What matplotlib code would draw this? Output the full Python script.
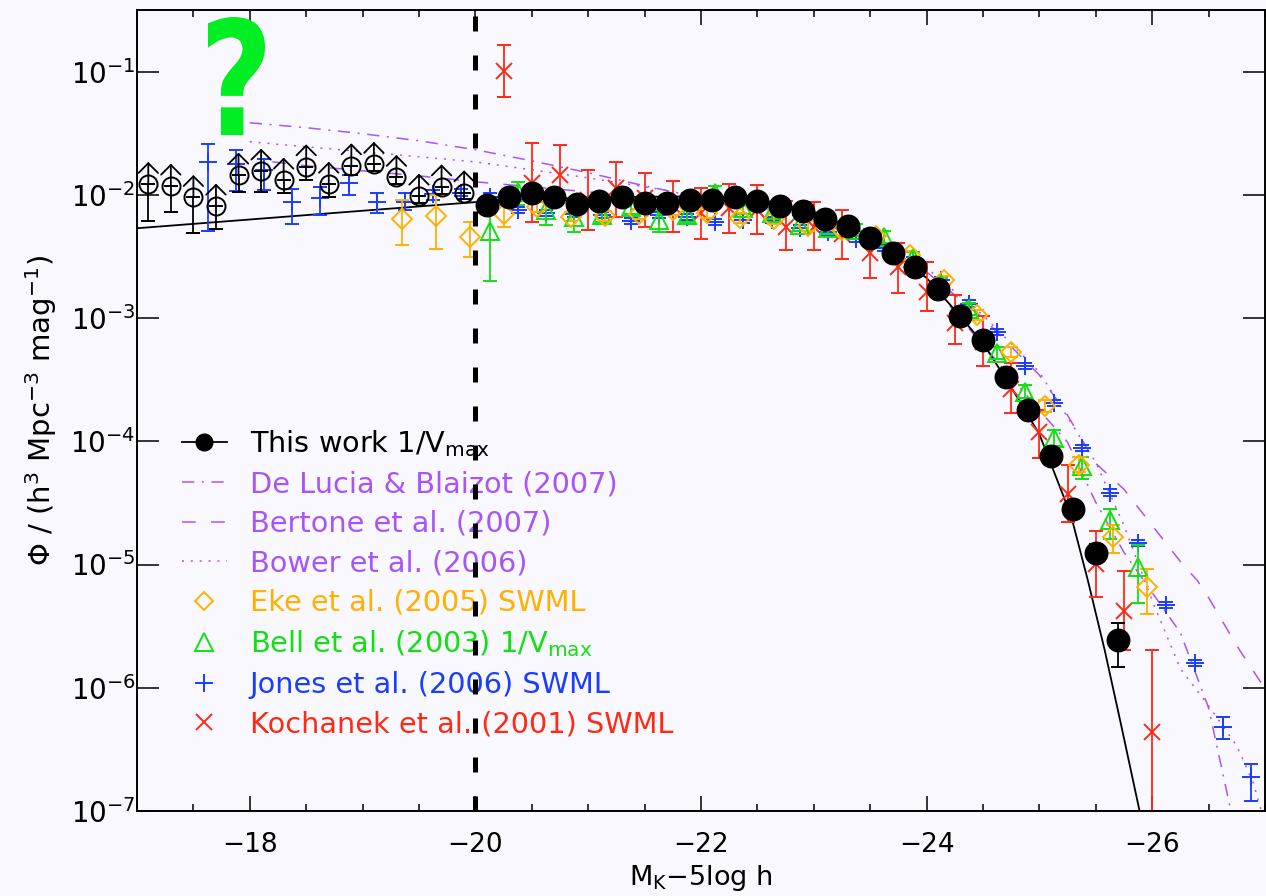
import numpy as np
import matplotlib.pyplot as plt
from matplotlib.lines import Line2D
from matplotlib.patches import PathPatch
from matplotlib.textpath import TextPath
from matplotlib.font_manager import FontProperties
from matplotlib.ticker import LogLocator, MultipleLocator, NullLocator

# K-band luminosity function, values stored as log10(phi)

# this work, 1/Vmax
this_mag = [-20.1, -20.3, -20.5, -20.7, -20.9, -21.1, -21.3, -21.5, -21.7, -21.9,
            -22.1, -22.3, -22.5, -22.7, -22.9, -23.1, -23.3, -23.5, -23.7, -23.9,
            -24.1, -24.3, -24.5, -24.7, -24.9, -25.1, -25.3, -25.5, -25.7]
this_logphi = [-2.081, -2.014, -1.986, -2.019, -2.073, -2.049, -2.014, -2.067, -2.067, -2.041,
               -2.041, -2.014, -2.049, -2.089, -2.128, -2.195, -2.252, -2.352, -2.469, -2.589,
               -2.767, -2.984, -3.179, -3.482, -3.748, -4.122, -4.553, -4.905, -5.612]
this_dlo = [0.06, 0.03, 0.03, 0.03, 0.03, 0.03, 0.03, 0.03, 0.03, 0.03,
            0.03, 0.03, 0.03, 0.03, 0.03, 0.03, 0.03, 0.03, 0.03, 0.03,
            0.03, 0.03, 0.03, 0.03, 0.03, 0.04, 0.05, 0.07, 0.22]
this_dhi = [0.03, 0.03, 0.03, 0.03, 0.03, 0.03, 0.03, 0.03, 0.03, 0.03,
            0.03, 0.03, 0.03, 0.03, 0.03, 0.03, 0.03, 0.03, 0.03, 0.03,
            0.03, 0.03, 0.03, 0.03, 0.03, 0.04, 0.05, 0.07, 0.14]

# this work, faint bins (lower limits)
limit_mag = [-17.1, -17.3, -17.5, -17.7, -17.9, -18.1, -18.3, -18.5, -18.7, -18.9,
             -19.1, -19.3, -19.5, -19.7, -19.9]
limit_logphi = [-1.913, -1.927, -2.019, -2.089, -1.837, -1.805, -1.878, -1.770, -1.911, -1.762,
                -1.750, -1.856, -2.008, -1.933, -1.981]
limit_dlo = [0.30, 0.21, 0.29, 0.19, 0.14, 0.17, 0.11, 0.11, 0.11, 0.075,
             0.06, 0.055, 0.06, 0.06, 0.055]

# Schechter fit to this work
fit_mag = [-17.0, -18.0, -19.0, -20.0, -21.0, -22.0, -22.5, -23.0, -23.5, -23.75, -24.0,
           -24.25, -24.5, -24.75, -25.0, -25.28, -25.43, -25.58, -25.73, -25.89]
fit_logphi = [-2.271, -2.200, -2.129, -2.059, -2.020, -2.012, -2.033, -2.138, -2.333, -2.496, -2.675,
              -2.935, -3.203, -3.561, -3.943, -4.602, -5.130, -5.699, -6.325, -7.008]

# semi-analytic models
delucia_mag = [-18.0, -18.5, -19.0, -19.5, -20.0, -20.5, -21.0, -21.5, -22.0, -22.5, -23.0,
               -23.5, -24.0, -24.5, -25.0, -25.25, -25.5, -25.75, -26.0, -26.25, -26.5, -26.7]
delucia_logphi = [-1.415, -1.455, -1.504, -1.561, -1.634, -1.724, -1.821, -1.927, -2.024, -2.106, -2.203,
                  -2.366, -2.675, -3.220, -3.748, -4.008, -4.496, -4.902, -5.228, -5.553, -6.163, -7.008]

bertone_mag = [-18.2, -18.5, -19.0, -19.5, -20.0, -20.5, -21.0, -21.5, -22.0, -22.5, -23.0, -23.5,
               -24.0, -24.5, -25.0, -25.25, -25.5, -25.75, -26.0, -26.25, -26.4, -26.5, -26.75, -27.0]
bertone_logphi = [-1.732, -1.764, -1.805, -1.846, -1.894, -1.935, -1.976, -2.008, -2.041, -2.098, -2.187, -2.350,
                  -2.626, -3.000, -3.463, -3.789, -4.179, -4.390, -4.683, -4.976, -5.130, -5.268, -5.659, -6.008]

bower_mag = [-18.0, -18.5, -19.0, -19.5, -20.0, -20.5, -21.0, -21.5, -22.0, -22.5, -23.0, -23.5,
             -24.0, -24.5, -25.0, -25.5, -25.75, -26.0, -26.25, -26.5, -26.75, -26.9, -26.97]
bower_logphi = [-1.569, -1.610, -1.650, -1.691, -1.732, -1.797, -1.862, -1.935, -2.008, -2.081, -2.179, -2.350,
                -2.593, -2.976, -3.439, -4.171, -4.683, -5.293, -5.846, -6.146, -6.472, -6.780, -7.008]

# Eke et al. (2005) SWML
eke_mag = [-19.35, -19.65, -19.95, -20.25, -20.55, -20.85, -21.15, -21.45, -21.75, -22.05,
           -22.35, -22.65, -22.95, -23.25, -23.55, -23.85, -24.15, -24.45, -24.75, -25.05,
           -25.35, -25.65, -25.95]
eke_logphi = [-2.195, -2.168, -2.344, -2.154, -2.100, -2.176, -2.171, -2.154, -2.122, -2.149,
              -2.189, -2.198, -2.252, -2.285, -2.333, -2.492, -2.695, -2.972, -3.274, -3.715,
              -4.191, -4.780, -5.179]
eke_dlo = [0.21, 0.27, 0.16, 0.11, 0.04, 0.04, 0.04, 0.04, 0.04, 0.04,
           0.04, 0.04, 0.04, 0.04, 0.04, 0.04, 0.04, 0.04, 0.04, 0.05,
           0.06, 0.13, 0.22]
eke_dhi = [0.15, 0.17, 0.12, 0.07, 0.04, 0.04, 0.04, 0.04, 0.04, 0.04,
           0.04, 0.04, 0.04, 0.04, 0.04, 0.04, 0.04, 0.04, 0.04, 0.05,
           0.06, 0.10, 0.14]

# Bell et al. (2003) 1/Vmax
bell_mag = [-20.125, -20.375, -20.625, -20.875, -21.125, -21.375, -21.625, -21.875,
            -22.125, -22.375, -22.625, -22.875, -23.125, -23.375, -23.625, -23.875,
            -24.125, -24.375, -24.625, -24.875, -25.125, -25.375, -25.625, -25.875]
bell_logphi = [-2.293, -1.973, -2.122, -2.181, -2.163, -2.095, -2.203, -2.163,
               -1.986, -2.108, -2.149, -2.244, -2.271, -2.285, -2.341, -2.512,
               -2.724, -2.927, -3.285, -3.596, -3.972, -4.203, -4.642, -5.022]
bell_dlo = [0.41, 0.11, 0.12, 0.12, 0.06, 0.06, 0.10, 0.06,
            0.06, 0.05, 0.05, 0.05, 0.05, 0.05, 0.05, 0.05,
            0.05, 0.05, 0.05, 0.05, 0.07, 0.10, 0.15, 0.29]
bell_dhi = [0.25, 0.08, 0.14, 0.10, 0.06, 0.06, 0.08, 0.06,
            0.06, 0.05, 0.05, 0.05, 0.05, 0.05, 0.05, 0.05,
            0.05, 0.05, 0.05, 0.05, 0.06, 0.075, 0.095, 0.18]

# Jones et al. (2006) SWML
jones_mag = [-17.625, -17.875, -18.125, -18.375, -18.625, -18.875, -19.125, -19.375, -19.625, -19.875,
             -20.125, -20.375, -20.625, -20.875, -21.125, -21.375, -21.625, -21.875, -22.125, -22.375,
             -22.625, -22.875, -23.125, -23.375, -23.625, -23.875, -24.125, -24.375, -24.625, -24.875,
             -25.125, -25.375, -25.625, -25.875, -26.125, -26.375, -26.625, -26.875]
jones_logphi = [-1.737, -1.750, -1.802, -2.054, -2.027, -1.905, -2.054, -2.054, -1.992, -1.981,
                -2.014, -2.122, -2.146, -2.154, -2.163, -2.211, -2.163, -2.179, -2.217, -2.203,
                -2.203, -2.271, -2.298, -2.358, -2.433, -2.528, -2.691, -2.882, -3.111, -3.390,
                -3.691, -4.051, -4.416, -4.823, -5.325, -5.799, -6.317, -6.721]
jones_dlo = [0.56, 0.22, 0.16, 0.18, 0.14, 0.10, 0.095, 0.07, 0.05, 0.03,
             0.025, 0.025, 0.025, 0.025, 0.025, 0.025, 0.025, 0.025, 0.025, 0.025,
             0.025, 0.025, 0.025, 0.025, 0.025, 0.025, 0.025, 0.025, 0.025, 0.025,
             0.025, 0.025, 0.025, 0.025, 0.025, 0.025, 0.10, 0.20]
jones_dhi = [0.15, 0.11, 0.09, 0.10, 0.09, 0.07, 0.07, 0.07, 0.035, 0.03,
             0.025, 0.025, 0.025, 0.025, 0.025, 0.025, 0.025, 0.025, 0.025, 0.025,
             0.025, 0.025, 0.025, 0.025, 0.025, 0.025, 0.025, 0.025, 0.025, 0.025,
             0.025, 0.025, 0.025, 0.025, 0.025, 0.025, 0.076, 0.106]

# Kochanek et al. (2001) SWML, with upper / lower error ends
koch_mag = [-20.25, -20.5, -20.75, -21.0, -21.25, -21.5, -21.75, -22.0, -22.25, -22.5,
            -22.75, -23.0, -23.25, -23.5, -23.75, -24.0, -24.25, -24.5, -24.75, -25.0,
            -25.25, -25.5, -25.75, -26.0]
koch_logphi = [-0.998, -1.905, -1.837, -2.041, -1.946, -2.027, -2.089, -2.149, -2.106, -2.122,
               -2.258, -2.258, -2.317, -2.474, -2.585, -2.786, -3.043, -3.193, -3.572, -3.924,
               -4.425, -4.994, -5.374, -6.358]
koch_loghi = [-0.786, -1.580, -1.599, -1.802, -1.734, -1.824, -1.884, -1.941, -1.911, -1.919,
              -2.046, -2.054, -2.122, -2.276, -2.393, -2.542, -2.813, -2.984, -3.368, -3.748,
              -4.195, -4.724, -5.049, -5.693]
koch_loglo = [-1.209, -2.217, -2.041, -2.285, -2.176, -2.258, -2.298, -2.360, -2.311, -2.317,
              -2.447, -2.451, -2.523, -2.672, -2.794, -2.943, -3.214, -3.390, -3.767, -4.136,
              -4.656, -5.260, -5.693, -8.0]

bg = '#F8F8FE'
purple = '#A855F7'
orange = '#FFB000'
green = '#12E012'
blue = '#1A3DFF'
red = '#FF2A14'


def with_err(logv, dlo, dhi):
    logv = np.asarray(logv)
    v = 10 ** logv
    lo = v - 10 ** (logv - np.asarray(dlo))
    hi = 10 ** (logv + np.asarray(dhi)) - v
    return v, np.vstack([lo, hi])


fig = plt.figure(figsize=(12.66, 8.96), dpi=100, facecolor=bg)
ax = fig.add_axes([137 / 1266, 85 / 896, 1128 / 1266, 801 / 896], facecolor=bg)

# model curves
ax.plot(delucia_mag, 10 ** np.array(delucia_logphi), color=purple, lw=1.1,
        dashes=(8, 5, 1.3, 5), zorder=1.5)
ax.plot(bertone_mag, 10 ** np.array(bertone_logphi), color=purple, lw=1.1,
        dashes=(9, 10), zorder=1.5)
ax.plot(bower_mag, 10 ** np.array(bower_logphi), color=purple, lw=1.1,
        dashes=(1.3, 4.5), zorder=1.5)

# Schechter fit
ax.plot(fit_mag, 10 ** np.array(fit_logphi), color='k', lw=1.3, zorder=1.6)

ebkw = dict(ls='none', elinewidth=1.3, capthick=1.3, mew=1.4, capsize=5)

v = 10 ** np.array(koch_logphi)
kerr = np.vstack([v - 10 ** np.array(koch_loglo), 10 ** np.array(koch_loghi) - v])
ax.errorbar(koch_mag, v, yerr=kerr, marker='x', ms=12, color=red, zorder=2, **ebkw)

v, e = with_err(jones_logphi, jones_dlo, jones_dhi)
ax.errorbar(jones_mag, v, yerr=e, marker='+', ms=13, color=blue, zorder=2.1, **ebkw)

v, e = with_err(bell_logphi, bell_dlo, bell_dhi)
ax.errorbar(bell_mag, v, yerr=e, marker='^', ms=13, mfc='none', color=green, zorder=2.2, **ebkw)

v, e = with_err(eke_logphi, eke_dlo, eke_dhi)
ax.errorbar(eke_mag, v, yerr=e, marker='D', ms=10, mfc='none', color=orange, zorder=2.3, **ebkw)

# faint bins: lower limits drawn as open circles with upward arrows
v = 10 ** np.array(limit_logphi)
lo = v - 10 ** (np.array(limit_logphi) - np.array(limit_dlo))
ax.errorbar(limit_mag, v, yerr=[lo, np.zeros_like(lo)], marker='o', ms=13, mfc='none',
            color='k', zorder=3, **ebkw)
for m, lv in zip(limit_mag, limit_logphi):
    ax.annotate('', xy=(m, 10 ** (lv + 0.18)), xytext=(m, 10 ** lv),
                arrowprops=dict(arrowstyle='->,head_length=0.7,head_width=0.7',
                                color='k', lw=1.3, shrinkA=0, shrinkB=0), zorder=3)

v, e = with_err(this_logphi, this_dlo, this_dhi)
ax.errorbar(this_mag, v, yerr=e, marker='o', ms=15.8, color='k', zorder=4, **ebkw)

# completeness limit
ax.plot([-20.0, -20.0], [1e-7, 10 ** -0.5], color='k', lw=3.6, zorder=6,
        dashes=(3.0, 4.8), dash_capstyle='butt')

ax.set_xlim(-17, -27)
ax.set_yscale('log')
ax.set_ylim(1e-7, 10 ** -0.5)

ax.xaxis.set_major_locator(MultipleLocator(2))
ax.xaxis.set_minor_locator(MultipleLocator(0.5))
ax.yaxis.set_major_locator(LogLocator(base=10, numticks=20))
ax.yaxis.set_minor_locator(NullLocator())

ax.tick_params(axis='x', which='major', direction='in', top=True, length=10.8, width=1.1,
               pad=15, labelsize=19)
ax.tick_params(axis='x', which='minor', direction='in', top=True, length=5, width=1.1)
ax.tick_params(axis='y', which='major', direction='in', right=True, length=15.8, width=1.1,
               pad=1, labelsize=20)
for s in ax.spines.values():
    s.set_linewidth(1.4)

ax.set_xlabel('M$_\\mathrm{K}$\u22125log h', fontsize=19.5, labelpad=4)
ax.set_ylabel('\u03a6 / (h$^3$ Mpc$^{-3}$ mag$^{-1}$)', fontsize=21, labelpad=8)

handles = [
    Line2D([], [], color='k', marker='o', ms=12, lw=1.3),
    Line2D([], [], color=purple, lw=1.1, dashes=(8, 5, 1.3, 5)),
    Line2D([], [], color=purple, lw=1.1, dashes=(9, 10)),
    Line2D([], [], color=purple, lw=1.1, dashes=(1.3, 4.5)),
    Line2D([], [], color=orange, marker='D', ms=9.5, mfc='none', mew=1.4, ls='none'),
    Line2D([], [], color=green, marker='^', ms=13, mfc='none', mew=1.4, ls='none'),
    Line2D([], [], color=blue, marker='+', ms=13, mew=1.4, ls='none'),
    Line2D([], [], color=red, marker='x', ms=12, mew=1.4, ls='none'),
]
labels = [
    'This work 1/V$_\\mathrm{max}$',
    'De Lucia & Blaizot (2007)',
    'Bertone et al. (2007)',
    'Bower et al. (2006)',
    'Eke et al. (2005) SWML',
    'Bell et al. (2003) 1/V$_\\mathrm{max}$',
    'Jones et al. (2006) SWML',
    'Kochanek et al. (2001) SWML',
]
label_colors = ['k', purple, purple, purple, orange, green, blue, red]
leg = ax.legend(handles, labels, loc='upper left', bbox_to_anchor=(0.0396, 0.478),
                frameon=False, fontsize=20.7, borderpad=0, borderaxespad=0,
                handlelength=1.57, handletextpad=0.8, labelspacing=0.40)
for t, c in zip(leg.get_texts(), label_colors):
    t.set_color(c)

# big question mark over the faint end, stretched into its own small axes
tp = TextPath((0, 0), '?', size=100, prop=FontProperties(family='DejaVu Sans', weight='bold'))
pts = np.vstack(tp.to_polygons())
qax = fig.add_axes([208 / 1266, (896 - 135) / 896, 57 / 1266, 118 / 896])
qax.axis('off')
qax.add_patch(PathPatch(tp, facecolor='#00EE22', edgecolor='none', clip_on=False))
qax.set_xlim(pts[:, 0].min(), pts[:, 0].max())
qax.set_ylim(pts[:, 1].min(), pts[:, 1].max())

fig.savefig('out.png', dpi=100, facecolor=bg)
